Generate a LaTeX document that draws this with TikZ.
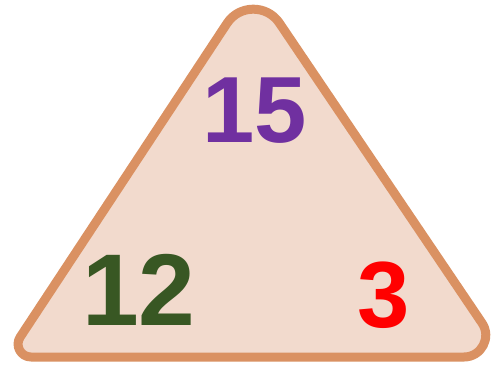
\documentclass[tikz,border=0pt]{standalone}
\usepackage{fontspec}
\setmainfont{Liberation Sans}
\definecolor{triedge}{HTML}{DA9162}
\definecolor{trifill}{HTML}{F2DACD}
\definecolor{numpurple}{HTML}{7030A0}
\definecolor{numgreen}{HTML}{385723}
\definecolor{numred}{HTML}{FF0000}
\tikzset{
  trishape/.style={draw=triedge, fill=trifill, line width=9pt, line join=round},
  numlabel/.style={inner sep=0pt, anchor=base, font=\bfseries},
}
\begin{document}
\begin{tikzpicture}[x=1pt, y=-1pt]
\useasboundingbox[fill=white] (0,0) rectangle (494,367);
\draw[trishape]
  (240,357) -- (464,357)
  .. controls (481.4,357) and (491.8,337.5) .. (482.0,323.0)
  -- (279.3,22.9)
  .. controls (266.8,4.5) and (239.4,4.6) .. (227.1,23.2)
  -- (20.2,337.0)
  .. controls (14.55,345.6) and (20.7,357) .. (31,357)
  -- cycle;
\node[numlabel, text=numpurple, font=\bfseries\fontsize{94}{94}\selectfont] (n15) at (255,142) {15};
\node[numlabel, text=numgreen, font=\bfseries\fontsize{102}{102}\selectfont] (n12) at (139,325) {12};
\node[numlabel, text=numred, font=\bfseries\fontsize{94}{94}\selectfont] (n3) at (384,327) {3};
\end{tikzpicture}
\end{document}
